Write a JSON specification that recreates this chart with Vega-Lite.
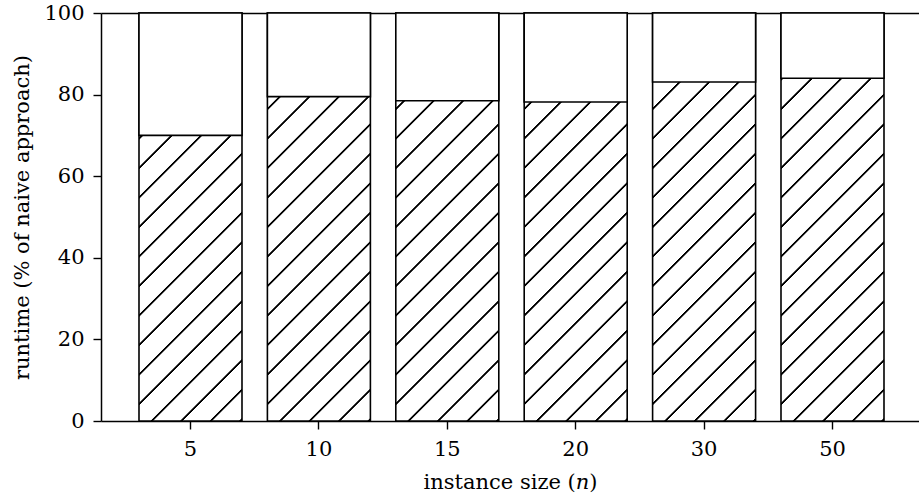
{
  "$schema": "https://vega.github.io/schema/vega-lite/v6.json",
  "width": 818,
  "height": 408,
  "autosize": {"type": "none"},
  "padding": {"left": 101, "top": 13, "right": 0, "bottom": 76},
  "background": "white",
  "config": {
    "view": {"stroke": null},
    "font": "DejaVu Serif",
    "axis": {
      "domainColor": "black",
      "domainWidth": 1.5,
      "tickColor": "black",
      "tickWidth": 1.4,
      "tickSize": 8,
      "labelColor": "black",
      "labelFont": "DejaVu Serif",
      "labelFontSize": 21,
      "titleFont": "DejaVu Serif",
      "titleFontSize": 21,
      "titleFontWeight": "normal",
      "titleColor": "black",
      "grid": false
    }
  },
  "data": {
    "values": [
      {"n": "5", "runtime": 70.0},
      {"n": "10", "runtime": 79.5},
      {"n": "15", "runtime": 78.5},
      {"n": "20", "runtime": 78.2},
      {"n": "30", "runtime": 83.1},
      {"n": "50", "runtime": 84.0}
    ]
  },
  "layer": [
    {
      "mark": {
        "type": "bar",
        "stroke": "black",
        "strokeWidth": 1.6,
        "fill": {
          "gradient": "linear",
          "x1": 0, "y1": 0, "x2": 0.297239, "y2": 1.177415,
          "stops": [
            {"offset": 0, "color": "white"},
            {"offset": 0.0116, "color": "white"}, {"offset": 0.0134, "color": "black"}, {"offset": 0.0166, "color": "black"}, {"offset": 0.0184, "color": "white"},
            {"offset": 0.0693, "color": "white"}, {"offset": 0.0711, "color": "black"}, {"offset": 0.0743, "color": "black"}, {"offset": 0.0761, "color": "white"},
            {"offset": 0.1271, "color": "white"}, {"offset": 0.1289, "color": "black"}, {"offset": 0.1321, "color": "black"}, {"offset": 0.1339, "color": "white"},
            {"offset": 0.1848, "color": "white"}, {"offset": 0.1866, "color": "black"}, {"offset": 0.1898, "color": "black"}, {"offset": 0.1916, "color": "white"},
            {"offset": 0.2425, "color": "white"}, {"offset": 0.2443, "color": "black"}, {"offset": 0.2475, "color": "black"}, {"offset": 0.2493, "color": "white"},
            {"offset": 0.3002, "color": "white"}, {"offset": 0.3020, "color": "black"}, {"offset": 0.3052, "color": "black"}, {"offset": 0.3070, "color": "white"},
            {"offset": 0.3580, "color": "white"}, {"offset": 0.3598, "color": "black"}, {"offset": 0.3630, "color": "black"}, {"offset": 0.3648, "color": "white"},
            {"offset": 0.4157, "color": "white"}, {"offset": 0.4175, "color": "black"}, {"offset": 0.4207, "color": "black"}, {"offset": 0.4225, "color": "white"},
            {"offset": 0.4734, "color": "white"}, {"offset": 0.4752, "color": "black"}, {"offset": 0.4784, "color": "black"}, {"offset": 0.4802, "color": "white"},
            {"offset": 0.5312, "color": "white"}, {"offset": 0.5330, "color": "black"}, {"offset": 0.5362, "color": "black"}, {"offset": 0.5380, "color": "white"},
            {"offset": 0.5889, "color": "white"}, {"offset": 0.5907, "color": "black"}, {"offset": 0.5939, "color": "black"}, {"offset": 0.5957, "color": "white"},
            {"offset": 0.6466, "color": "white"}, {"offset": 0.6484, "color": "black"}, {"offset": 0.6516, "color": "black"}, {"offset": 0.6534, "color": "white"},
            {"offset": 0.7044, "color": "white"}, {"offset": 0.7062, "color": "black"}, {"offset": 0.7094, "color": "black"}, {"offset": 0.7112, "color": "white"},
            {"offset": 0.7621, "color": "white"}, {"offset": 0.7639, "color": "black"}, {"offset": 0.7671, "color": "black"}, {"offset": 0.7689, "color": "white"},
            {"offset": 0.8198, "color": "white"}, {"offset": 0.8216, "color": "black"}, {"offset": 0.8248, "color": "black"}, {"offset": 0.8266, "color": "white"},
            {"offset": 0.8776, "color": "white"}, {"offset": 0.8794, "color": "black"}, {"offset": 0.8826, "color": "black"}, {"offset": 0.8844, "color": "white"},
            {"offset": 0.9353, "color": "white"}, {"offset": 0.9371, "color": "black"}, {"offset": 0.9403, "color": "black"}, {"offset": 0.9421, "color": "white"},
            {"offset": 0.9930, "color": "white"}, {"offset": 0.9948, "color": "black"}, {"offset": 0.9980, "color": "black"}, {"offset": 0.9998, "color": "white"},
            {"offset": 1, "color": "white"}
          ]
        }
      },
      "encoding": {
        "x": {
          "field": "n",
          "type": "ordinal",
          "sort": null,
          "scale": {"paddingInner": 0.19782, "paddingOuter": 0.28427, "align": 0.5205, "round": false},
          "axis": {
            "orient": "bottom",
            "labelAngle": 0,
            "labelPadding": 9,
            "title": "instance size (𝑛)",
            "titlePadding": 12
          }
        },
        "y": {
          "datum": 100,
          "type": "quantitative",
          "scale": {"domain": [0, 100], "nice": false},
          "axis": {
            "values": [0, 20, 40, 60, 80, 100],
            "labelPadding": 9,
            "title": "runtime (% of naive approach)",
            "titlePadding": 11
          }
        }
      }
    },
    {
      "mark": {"type": "bar", "fill": "white", "stroke": "black", "strokeWidth": 1.6},
      "encoding": {
        "x": {
          "field": "n",
          "type": "ordinal",
          "sort": null,
          "axis": {"orient": "top", "labels": false, "ticks": false, "title": null}
        },
        "y": {
          "field": "runtime",
          "type": "quantitative",
          "axis": {
            "values": [0, 20, 40, 60, 80, 100],
            "labelPadding": 9,
            "title": "runtime (% of naive approach)",
            "titlePadding": 11
          }
        },
        "y2": {"datum": 100}
      }
    }
  ],
  "resolve": {"axis": {"x": "independent"}}
}
